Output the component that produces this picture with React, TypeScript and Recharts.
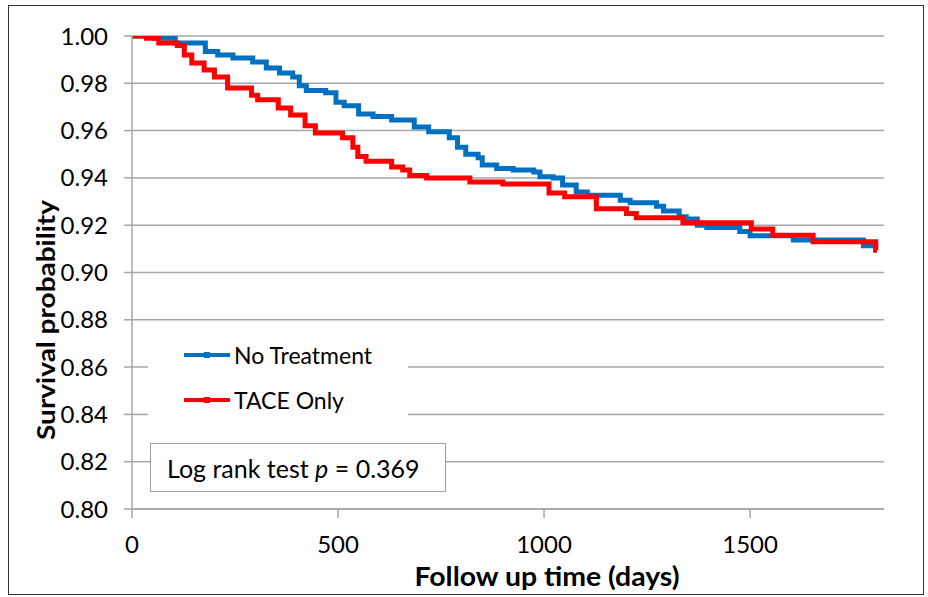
import React from "react";
import {
  LineChart,
  Line,
  XAxis,
  YAxis,
  CartesianGrid,
  Legend,
} from "recharts";

const NT_DAYS = [0, 55, 105, 178, 208, 245, 293, 326, 358, 390, 406, 423, 470, 495, 515, 550, 585, 630, 685, 720, 770, 790, 810, 840, 850, 885, 925, 975, 990, 1022, 1045, 1078, 1105, 1185, 1209, 1273, 1290, 1328, 1345, 1372, 1395, 1475, 1500, 1605, 1775, 1805, 1808];
const NT_SURV = [1.0, 0.999, 0.997, 0.9934, 0.992, 0.9907, 0.989, 0.9865, 0.9844, 0.9827, 0.979, 0.977, 0.976, 0.972, 0.9705, 0.967, 0.966, 0.9645, 0.9615, 0.9595, 0.957, 0.953, 0.95, 0.9485, 0.9455, 0.944, 0.9433, 0.9425, 0.9405, 0.94, 0.937, 0.934, 0.9327, 0.9306, 0.9295, 0.928, 0.926, 0.9236, 0.9226, 0.92, 0.919, 0.9173, 0.9155, 0.9137, 0.9113, 0.9095, 0.9095];

const TACE_DAYS = [0, 35, 65, 110, 127, 145, 175, 200, 232, 290, 305, 355, 385, 420, 445, 511, 536, 548, 568, 630, 657, 674, 715, 820, 900, 1012, 1050, 1127, 1200, 1224, 1337, 1503, 1555, 1653, 1805, 1808];
const TACE_SURV = [1.0, 0.999, 0.997, 0.996, 0.992, 0.9886, 0.9856, 0.9827, 0.978, 0.975, 0.973, 0.9696, 0.9666, 0.962, 0.959, 0.957, 0.953, 0.949, 0.947, 0.9446, 0.9433, 0.941, 0.94, 0.9383, 0.9374, 0.9336, 0.932, 0.927, 0.925, 0.9232, 0.921, 0.9184, 0.9158, 0.913, 0.9095, 0.9095];

const X_TICKS = [0, 500, 1000, 1500];
const Y_TICKS = [0.8, 0.82, 0.84, 0.86, 0.88, 0.9, 0.92, 0.94, 0.96, 0.98, 1.0];

const BLUE = "#0070C0";
const RED = "#FF0000";
const GRID = "#a6a6a6";
const FONT = "Lato, 'Liberation Sans', sans-serif";

const ntData = NT_DAYS.map((t, i) => ({ t, s: NT_SURV[i] }));
const taceData = TACE_DAYS.map((t, i) => ({ t, s: TACE_SURV[i] }));

const legendItems = [
  { name: "No Treatment", color: BLUE },
  { name: "TACE Only", color: RED },
];

function KmLegend() {
  return (
    <div
      style={{
        background: "#fff",
        width: 260,
        height: 90,
        fontFamily: FONT,
        fontSize: 23,
        color: "#000",
        boxSizing: "border-box",
      }}
    >
      {legendItems.map((it) => (
        <div
          key={it.name}
          style={{ display: "flex", alignItems: "center", height: 45 }}
        >
          <svg width={50} height={12} style={{ marginLeft: 34 }}>
            <line x1={2} y1={6} x2={48} y2={6} stroke={it.color} strokeWidth={4} />
            <rect x={22} y={3} width={6} height={6} fill={it.color} />
          </svg>
          <span style={{ marginLeft: 2 }}>{it.name}</span>
        </div>
      ))}
    </div>
  );
}

export default function App() {
  return (
    <div style={{ position: "relative", width: 928, height: 597 }}>
      <style>{"body{margin:0}"}</style>
      <div
        style={{
          position: "absolute",
          left: 8,
          top: 5,
          width: 916,
          height: 590,
          border: "1.5px solid #333",
          boxSizing: "border-box",
        }}
      />
      <LineChart
        width={928}
        height={597}
        margin={{ top: 36, right: 44, left: 0, bottom: 0 }}
        style={{ position: "absolute", left: 0, top: 0 }}
      >
        <CartesianGrid horizontal vertical={false} stroke={GRID} strokeWidth={1.5} />
        <XAxis
          dataKey="t"
          type="number"
          domain={[0, 1825]}
          ticks={X_TICKS}
          height={88}
          tickSize={9}
          tickMargin={18}
          stroke={GRID}
          strokeWidth={1.5}
          tick={{ fill: "#000", fontSize: 24, fontFamily: FONT }}
          allowDataOverflow
          label={{
            content: () => (
              <text
                x={547}
                y={586}
                textAnchor="middle"
                fontFamily={FONT}
                fontWeight="bold"
                fontSize={27}
                textLength={265}
                lengthAdjust="spacingAndGlyphs"
                fill="#000"
              >
                Follow up time (days)
              </text>
            ),
          }}
        />
        <YAxis
          type="number"
          domain={[0.8, 1.0]}
          ticks={Y_TICKS}
          width={132}
          tickSize={8}
          tickMargin={16}
          stroke={GRID}
          strokeWidth={1.5}
          tickFormatter={(v: number) => v.toFixed(2)}
          tick={{ fill: "#000", fontSize: 24, fontFamily: FONT }}
          allowDataOverflow
          label={{
            content: () => (
              <text
                x={55}
                y={320}
                transform="rotate(-90, 55, 320)"
                textAnchor="middle"
                fontFamily={FONT}
                fontWeight="bold"
                fontSize={25}
                textLength={240}
                lengthAdjust="spacingAndGlyphs"
                fill="#000"
              >
                Survival probability
              </text>
            ),
          }}
        />
        <Legend
          content={() => <KmLegend />}
          layout="vertical"
          align="center"
          verticalAlign="middle"
          wrapperStyle={{ position: "absolute", left: 148, top: 332, width: 260 }}
        />
        <Line
          data={ntData}
          dataKey="s"
          name="No Treatment"
          type="stepAfter"
          stroke={BLUE}
          strokeWidth={5}
          dot={false}
          isAnimationActive={false}
        />
        <Line
          data={taceData}
          dataKey="s"
          name="TACE Only"
          type="stepAfter"
          stroke={RED}
          strokeWidth={5}
          dot={false}
          isAnimationActive={false}
        />
      </LineChart>
      <div
        style={{
          position: "absolute",
          left: 150,
          top: 443,
          width: 296,
          height: 49,
          border: "1px solid #a0a0a0",
          background: "#fff",
          boxSizing: "border-box",
          fontFamily: FONT,
          fontSize: 25,
          color: "#000",
          display: "flex",
          alignItems: "center",
          paddingLeft: 16,
        }}
      >
        <span>
          Log rank test <i>p</i> = 0.369
        </span>
      </div>
    </div>
  );
}
